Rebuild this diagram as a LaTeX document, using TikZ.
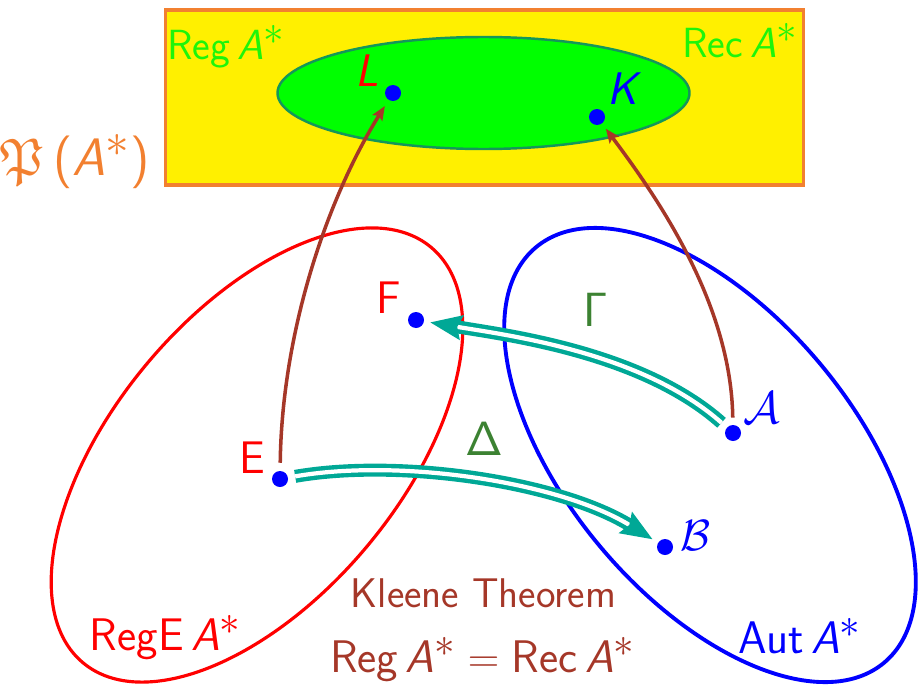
\documentclass[tikz,border=0pt]{standalone}
\usepackage{amssymb}
\usepackage{graphicx}
\usetikzlibrary{arrows.meta}
\definecolor{cyel}{RGB}{255,240,0}
\definecolor{corange}{RGB}{242,128,48}
\definecolor{cgreenfill}{RGB}{0,255,0}
\definecolor{cgreenline}{RGB}{20,150,90}
\definecolor{cgreentext}{RGB}{30,245,10}
\definecolor{cdkgreen}{RGB}{60,130,50}
\definecolor{cbrown}{RGB}{165,55,40}
\definecolor{cteal}{RGB}{0,168,150}
\definecolor{cred}{RGB}{255,0,0}
\definecolor{cblue}{RGB}{0,0,255}
\newcommand\Astar{\textit{A}$^{\scalebox{1.35}{$\scriptstyle *$}}$}
\tikzset{
  lab/.style={inner sep=0pt, anchor=base, font=\sffamily\fontsize{26}{30}\selectfont},
  toplab/.style={lab, font=\sffamily\fontsize{24}{28}\selectfont},
  biglab/.style={lab, transform shape, scale=1.1},
  dot/.style={circle, fill=cblue, inner sep=0pt, minimum size=0.32cm},
  brownarrow/.style={draw=cbrown, line width=2pt, -{Stealth[length=8pt,width=6.5pt,inset=1.5pt]}},
  tealarrow/.style={draw=cteal, double=white, line width=2.5pt, double distance=2.4pt, -{Stealth[length=18pt,width=14pt,inset=2.5pt]}}
}
\begin{document}
\begin{tikzpicture}[x=0.02cm,y=-0.02cm]
\useasboundingbox (0,0) rectangle (918,686);
% top box
\draw[draw=corange, fill=cyel, line width=2pt] (165.5,10) rectangle (803.5,185);
\draw[draw=cgreenline, fill=cgreenfill, line width=1.4pt] (483.5,93) ellipse [x radius=206, y radius=56];
% sets
\draw[draw=cred, line width=1.8pt, rotate around={50:(257,455)}] (257,455) ellipse [x radius=271, y radius=143];
\draw[draw=cblue, line width=2.2pt, rotate around={-50:(710,455)}] (710,455) ellipse [x radius=271, y radius=143];
% dots
\node[dot] (L) at (393,93) {};
\node[dot] (K) at (597,117) {};
\node[dot] (F) at (416,320) {};
\node[dot] (E) at (280,479) {};
\node[dot] (A) at (733,433) {};
\node[dot] (B) at (665,547) {};
% labels
\node[toplab, text=cgreentext] (regtop) at (226,60) {Reg\,\Astar};
\node[toplab, text=cgreentext] (rectop) at (740,58) {Rec\,\Astar};
\node[biglab, text=corange, scale=1.05] (power) at (75,175) {$\mathfrak{P}$\,(\Astar)};
\node[lab, text=cred] (Llab) at (367,87) {\textit{L}};
\node[lab, text=cblue] (Klab) at (625,104) {\textit{K}};
\node[lab, text=cred] (Flab) at (389,313) {F};
\node[lab, text=cred] (Elab) at (252,473) {E};
\node[biglab, text=cdkgreen] (Gam) at (596,326) {$\mathsf{\Gamma}$};
\node[biglab, text=cdkgreen] (Del) at (484,455) {$\mathsf{\Delta}$};
\node[biglab, text=cblue, scale=0.95] (Acal) at (762,423) {$\mathcal{A}$};
\node[lab, text=cblue] (Bcal) at (696,550) {$\mathcal{B}$};
\node[lab, text=cbrown, font=\sffamily\fontsize{23.6}{27}\selectfont] (kleene) at (483.5,607) {Kleene Theorem};
\node[lab, text=cbrown] (eq) at (482.5,672) {Reg\,\Astar$\;=\;$Rec\,\Astar};
\node[lab, text=cred] (rege) at (165.5,650) {RegE\,\Astar};
\node[lab, text=cblue] (aut) at (800,653) {Aut\,\Astar};
% connectors
\draw[brownarrow, shorten <=4.5pt, shorten >=4pt] (E) .. controls +(2,-149) and +(-65,104) .. (L);
\draw[brownarrow, shorten <=4pt, shorten >=3.6pt] (A) .. controls +(-2,-130) and +(60,80) .. (K);
\draw[tealarrow, shorten <=4pt, shorten >=3.5pt] (A) .. controls +(-91,-81) and +(90,15) .. (F);
\draw[tealarrow, shorten <=4pt, shorten >=3.6pt] (E) .. controls +(120,-21) and +(-105,-65) .. (B);
\end{tikzpicture}
\end{document}
